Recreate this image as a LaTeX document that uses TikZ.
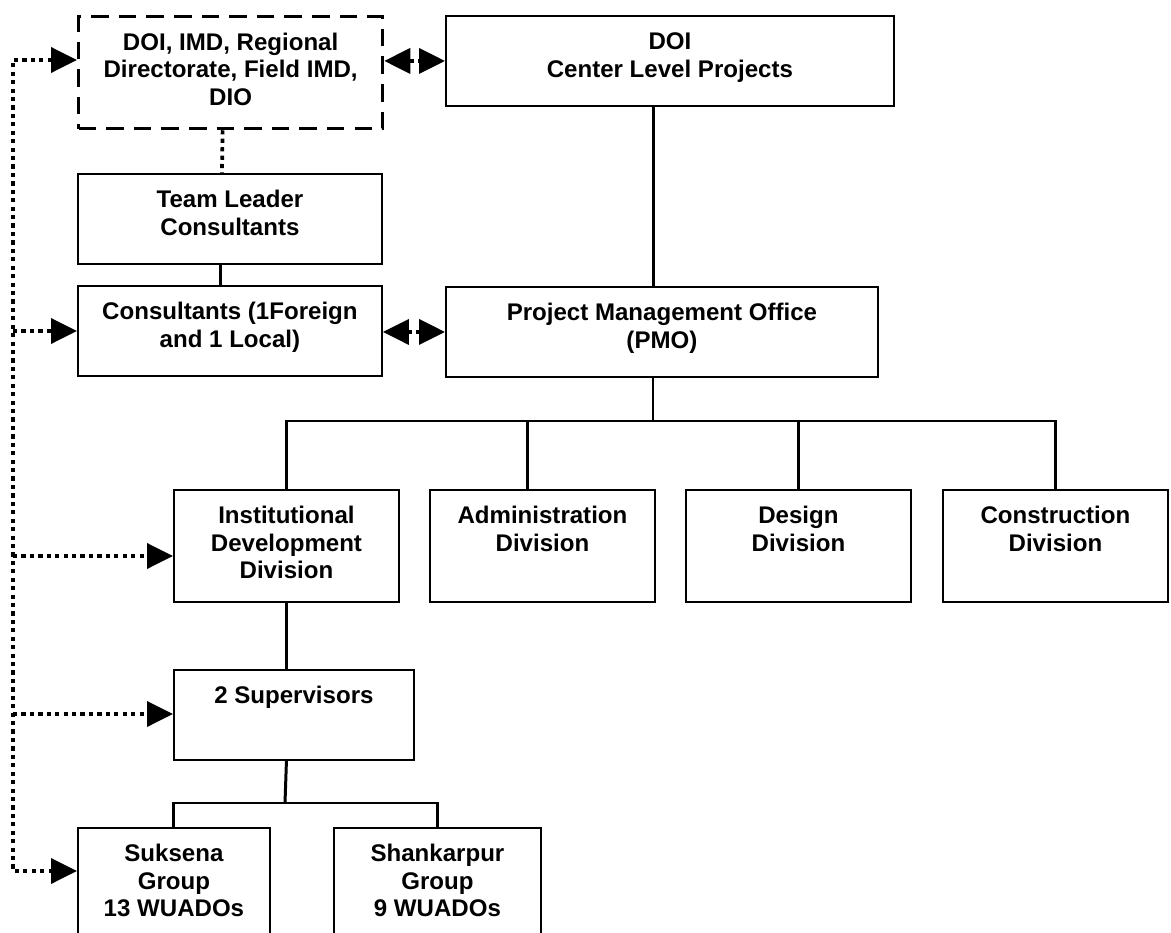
\documentclass[tikz,border=0pt]{standalone}
\usepackage{fontspec}
\setmainfont{Liberation Sans}
\usetikzlibrary{arrows.meta,calc}

\newcommand{\boxtext}[1]{\begin{tabular}[t]{@{}c@{}}#1\end{tabular}}

\tikzset{
  box/.style={draw, line width=1.1pt, anchor=north west,
    font=\bfseries\fontsize{13.7}{15.8}\selectfont, text height=10pt, inner ysep=9pt},
  short/.style={text depth=23.2pt},
  tall/.style={text depth=35.7pt},
  wire/.style={line width=1.7pt},
  dots/.style={line width=2.1pt, dash pattern=on 2.4pt off 2.4pt},
}

\begin{document}
\begin{tikzpicture}[x=0.02cm, y=-0.02cm, >={Triangle[length=0.52cm,width=0.5cm]}]
  \clip (0,0) rectangle (1171,933);

  % upper part
  \node[box, tall, line width=1.9pt, dash pattern=on 10pt off 5.7pt, minimum width=6.08cm] (dio) at (77,15) {\boxtext{DOI, IMD, Regional\\Directorate, Field IMD,\\DIO}};
  \node[box, short, minimum width=8.96cm] (doi) at (445,15) {\boxtext{DOI\\Center Level Projects}};
  \node[box, short, minimum width=6.08cm] (tlc) at (77,173) {\boxtext{Team Leader\\Consultants}};
  \node[box, short, minimum width=6.08cm] (cst) at (77,285) {\boxtext{Consultants (1Foreign\\and 1 Local)}};
  \node[box, short, minimum width=8.64cm] (pmo) at (445,286) {\boxtext{Project Management Office\\(PMO)}};

  % divisions
  \node[box, tall, minimum width=4.5cm] (idd) at (173,489) {\boxtext{Institutional\\Development\\Division}};
  \node[box, tall, minimum width=4.5cm] (adm) at (429,489) {\boxtext{Administration\\Division}};
  \node[box, tall, minimum width=4.5cm] (dsg) at (685,489) {\boxtext{Design\\Division}};
  \node[box, tall, minimum width=4.5cm] (cns) at (942,489) {\boxtext{Construction\\Division}};

  % field level
  \node[box, short, minimum width=4.8cm] (sup) at (173,669) {\boxtext{2 Supervisors}};
  \node[box, tall, minimum width=3.84cm] (suk) at (77,827) {\boxtext{Suksena\\Group\\13 WUADOs}};
  \node[box, tall, minimum width=4.14cm] (shk) at (333,827) {\boxtext{Shankarpur\\Group\\9 WUADOs}};

  \coordinate (bus) at (653,421);
  \coordinate (bus2) at (285,803);

  % solid lines
  \draw[wire] ([xshift=-0.32cm]doi.south) -- ([xshift=-0.32cm]doi.south |- pmo.north);
  \draw[wire] ([xshift=-0.18cm]tlc.south) -- ([xshift=-0.18cm]cst.north);
  \draw[wire] (pmo.south -| bus) -- (bus);
  \draw[wire] (idd.north) |- (bus) -| (cns.north);
  \draw[wire] ([xshift=-0.3cm]adm.north) -- ([xshift=-0.3cm]adm.north |- bus);
  \draw[wire] (dsg.north) -- (dsg.north |- bus);
  \draw[wire] (idd.south) -- (idd.south |- sup.north);
  \draw[wire] (idd.south |- sup.south) -- (bus2);
  \draw[wire] (suk.north) |- (bus2) -| (shk.north);

  % dotted links
  \draw[dots] ([xshift=-0.16cm]dio.south) -- ([xshift=-0.16cm]tlc.north);
  \draw[dots,<->] (dio.east |- doi.west) -- (doi.west);
  \draw[dots,<->] (cst.east |- pmo.west) -- (pmo.west);

  \coordinate (b1) at (13,60);
  \coordinate (b2) at (13,331);
  \coordinate (b3) at (13,556);
  \coordinate (b4) at (13,714);
  \coordinate (b5) at (13,871);
  \draw[dots,<->] (dio.west |- b1) -- (b1) -- (b5) -- (suk.west |- b5);
  \draw[dots,->] (b2) -- (cst.west |- b2);
  \draw[dots,->] (b3) -- (idd.west |- b3);
  \draw[dots,->] (b4) -- (sup.west |- b4);
\end{tikzpicture}
\end{document}
